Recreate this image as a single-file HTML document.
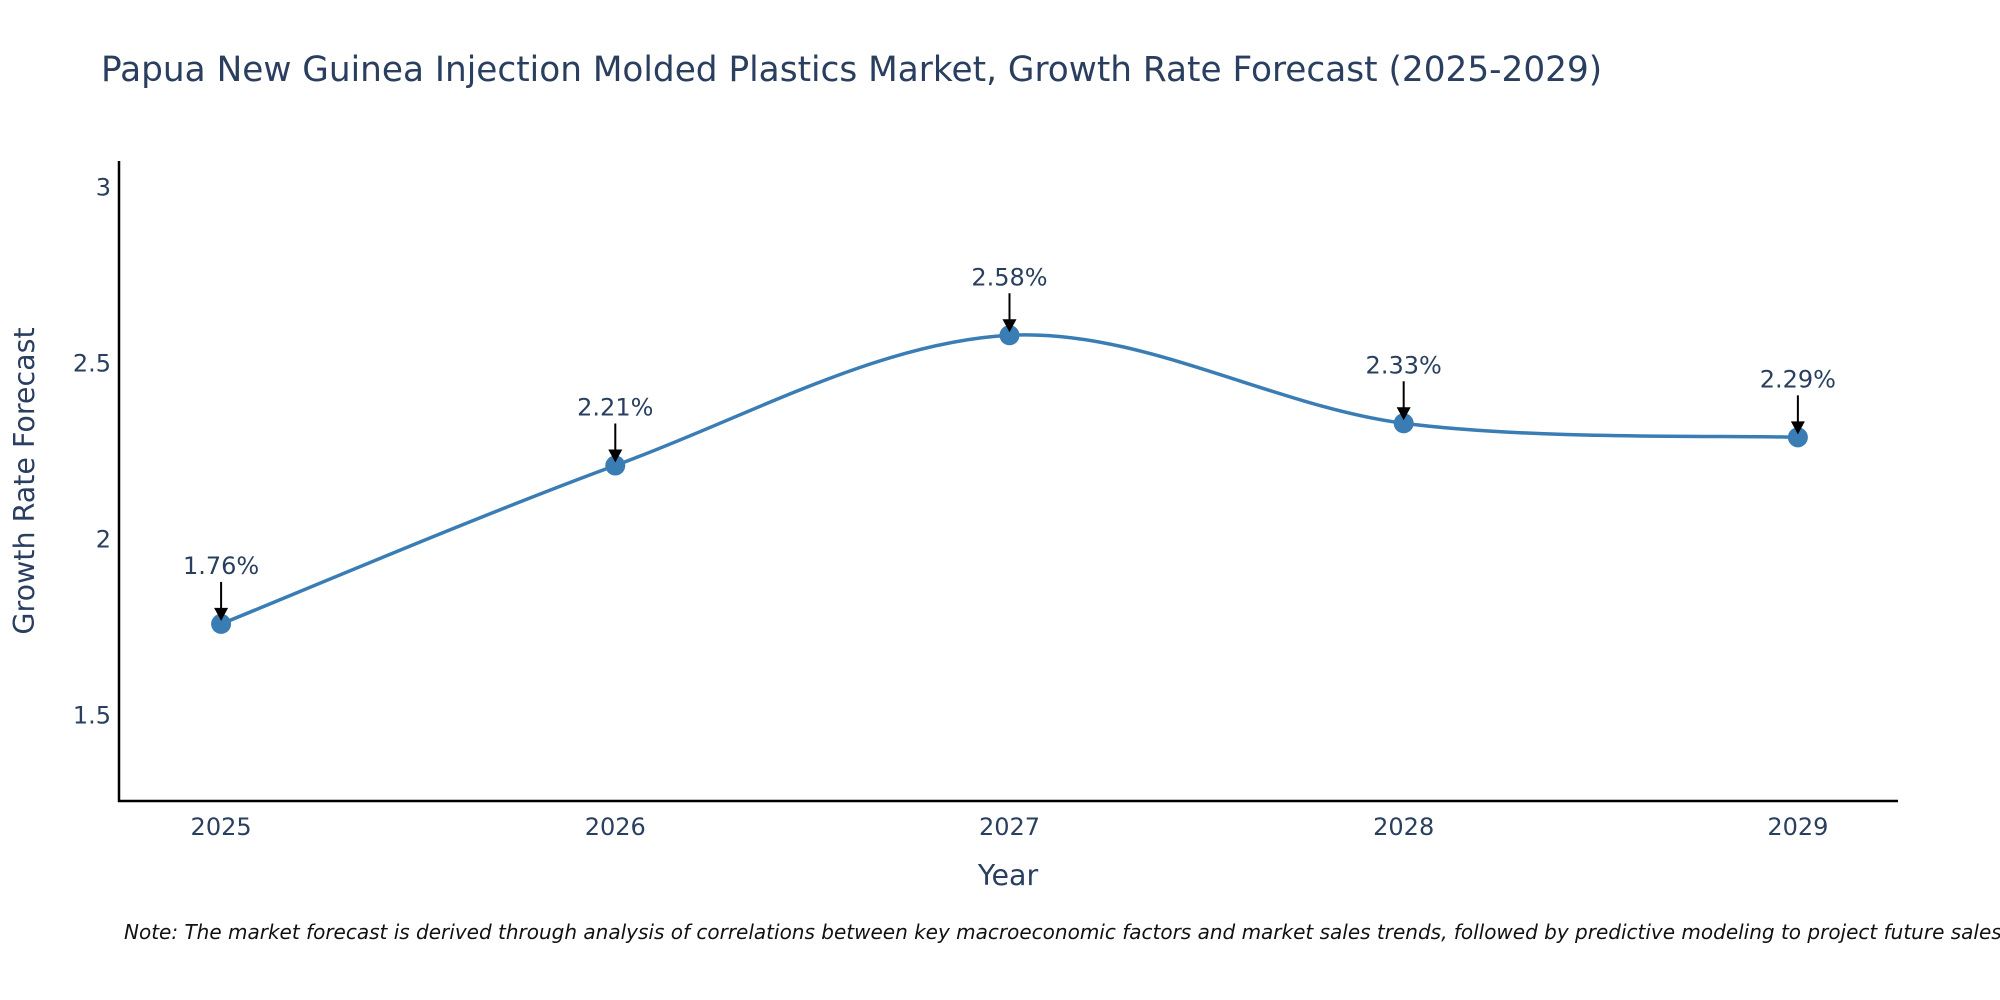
<!DOCTYPE html>
<html><head><meta charset="utf-8"><style>
html,body{margin:0;padding:0;background:#fff;}
svg{display:block;font-family:"DejaVu Sans","Liberation Sans",sans-serif;}
</style></head><body>
<svg id="chart" width="2000" height="1000" viewBox="0 0 2000 1000">
<rect width="2000" height="1000" fill="#fff"/>
<text x="101" y="81" font-size="34.3" fill="#2a3f5f">Papua New Guinea Injection Molded Plastics Market, Growth Rate Forecast (2025-2029)</text>
<g id="yticks"></g>
<g id="xticks"></g>
<line x1="119" y1="161" x2="119" y2="802" stroke="#000" stroke-width="2.5"/>
<line x1="118" y1="801" x2="1898" y2="801" stroke="#000" stroke-width="2.5"/>
<text transform="translate(34,481) rotate(-90)" text-anchor="middle" font-size="28.5" fill="#2a3f5f">Growth Rate Forecast</text>
<text x="1008" y="885" text-anchor="middle" font-size="28.5" fill="#2a3f5f">Year</text>
<g id="series"></g>
<g id="annots"></g>
<text x="124" y="939" font-size="20" font-style="italic" fill="#111">Note: The market forecast is derived through analysis of correlations between key macroeconomic factors and market sales trends, followed by predictive modeling to project future sales.</text>
</svg>
<script>
const years = [2025, 2026, 2027, 2028, 2029];
const rates = [1.76, 2.21, 2.58, 2.33, 2.29];
const labels = ["1.76%", "2.21%", "2.58%", "2.33%", "2.29%"];
const yTicks = [1.5, 2, 2.5, 3];
const xTicks = [2025, 2026, 2027, 2028, 2029];

const NS = "http://www.w3.org/2000/svg";
const X0 = 119, X1 = 1898, Y0 = 801, Y1 = 161;
const xMin = 2024.741, xMax = 2029.254, yMin = 1.257, yMax = 3.075;
const xs = v => X0 + (v - xMin) / (xMax - xMin) * (X1 - X0);
const ys = v => Y0 - (v - yMin) / (yMax - yMin) * (Y0 - Y1);
function mk(tag, attrs, parent, text) {
  const el = document.createElementNS(NS, tag);
  for (const k in attrs) el.setAttribute(k, attrs[k]);
  if (text !== undefined) el.textContent = text;
  parent.appendChild(el);
  return el;
}
const yg = document.getElementById('yticks');
yTicks.forEach(t => {
  const el = mk('text', {x: 111, y: ys(t) + 8, 'text-anchor': 'end', 'font-size': 24, fill: '#2a3f5f'}, yg, String(t));
  
  
});
const xg = document.getElementById('xticks');
xTicks.forEach(t => {
  const el = mk('text', {x: xs(t), y: 835, 'text-anchor': 'middle', 'font-size': 24, fill: '#2a3f5f'}, xg, String(t));
  
  
});
const pts = years.map((y, i) => [xs(y), ys(rates[i])]);
let d = `M${pts[0][0]},${pts[0][1]}`;
const s = 0.5;
for (let i = 0; i < pts.length - 1; i++) {
  const p0 = pts[Math.max(i - 1, 0)], p1 = pts[i], p2 = pts[i + 1], p3 = pts[Math.min(i + 2, pts.length - 1)];
  const c1 = [p1[0] + (p2[0] - p0[0]) * s / 3, p1[1] + (p2[1] - p0[1]) * s / 3];
  const c2 = [p2[0] - (p3[0] - p1[0]) * s / 3, p2[1] - (p3[1] - p1[1]) * s / 3];
  d += ` C${c1[0]},${c1[1]} ${c2[0]},${c2[1]} ${p2[0]},${p2[1]}`;
}
const sg = document.getElementById('series');
const line = mk('path', {d: d, fill: 'none', stroke: '#3a7db4', 'stroke-width': 3.5}, sg);


pts.forEach(p => {
  const c = mk('circle', {cx: p[0], cy: p[1], r: 10, fill: '#3a7db4'}, sg);
  
  
});
const ag = document.getElementById('annots');
pts.forEach((p, i) => {
  const l = mk('line', {x1: p[0], y1: p[1] - 42, x2: p[0], y2: p[1] - 14, stroke: '#000', 'stroke-width': 2}, ag);
  
  
  const h = mk('polygon', {points: `${p[0]-7},${p[1]-16} ${p[0]+7},${p[1]-16} ${p[0]},${p[1]-3}`, fill: '#000'}, ag);
  
  
  const t = mk('text', {x: p[0], y: p[1] - 50, 'text-anchor': 'middle', 'font-size': 24, fill: '#2a3f5f'}, ag, labels[i]);
  
  
});
</script>
</body></html>
